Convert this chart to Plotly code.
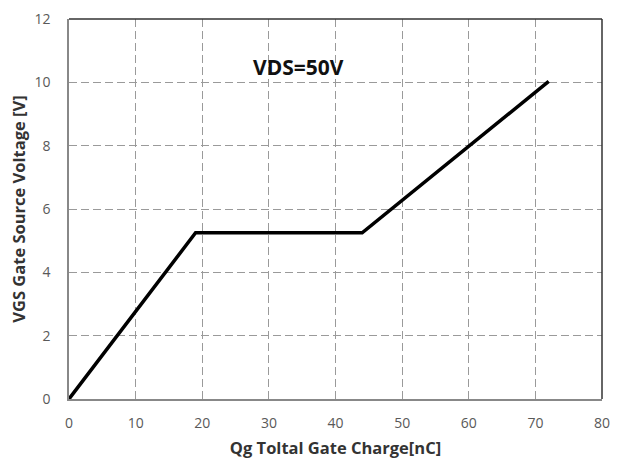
import plotly.graph_objects as go

# Data
qg = [0, 19, 44, 72]
vgs = [0, 5.25, 5.25, 10.03]
x_ticks = [0, 10, 20, 30, 40, 50, 60, 70, 80]
y_ticks = [0, 2, 4, 6, 8, 10, 12]
annotation_text = "VDS=50V"

fig = go.Figure()
fig.add_trace(go.Scatter(x=qg, y=vgs, mode="lines",
                         line=dict(color="black", width=3.5), showlegend=False))

font_family = "Open Sans, Liberation Sans, Arial"

fig.update_layout(
    width=618, height=462,
    margin=dict(l=69, r=16, t=19, b=63),
    paper_bgcolor="white", plot_bgcolor="white",
    font=dict(family=font_family, color="#595959", size=14),
    xaxis=dict(range=[0, 80], tickvals=x_ticks, showgrid=True, automargin=False,
               gridcolor="#9a9a9a", griddash="8px,4px", gridwidth=1.3,
               showline=True, linecolor="#888888", linewidth=1.5,
               zeroline=False, ticks="", ticklen=0, ticklabelstandoff=10,
               tickfont=dict(size=14, color="#595959"),
               title=dict(text="<b>Qg Toltal Gate Charge[nC]</b>",
                          font=dict(size=16.5, color="#333333"), standoff=12)),
    yaxis=dict(range=[0, 12], tickvals=y_ticks, showgrid=True, automargin=False,
               gridcolor="#9a9a9a", griddash="8px,4px", gridwidth=1.3,
               showline=True, linecolor="#888888", linewidth=1.5,
               zeroline=False, ticks="", ticklen=0, ticklabelstandoff=14,
               tickfont=dict(size=14, color="#595959"),
               title=dict(text="<b>VGS Gate Source Voltage [V]</b>",
                          font=dict(size=16.5, color="#333333"), standoff=5)),
)

# dark top and right frame
fig.add_shape(type="line", xref="paper", yref="paper", x0=0, x1=1, y0=1, y1=1,
              line=dict(color="#333333", width=1.5))
fig.add_shape(type="line", xref="paper", yref="paper", x0=1, x1=1, y0=0, y1=1,
              line=dict(color="#333333", width=1.5))

fig.add_annotation(x=34.5, y=10.5, text="<b>" + annotation_text + "</b>",
                   showarrow=False, font=dict(size=21, color="#111111", family=font_family))

fig.write_html("out.html")
